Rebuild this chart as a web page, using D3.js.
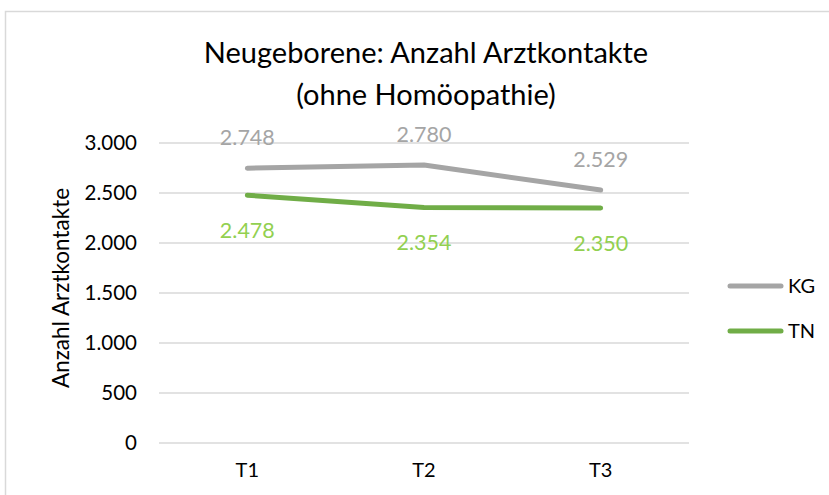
<!DOCTYPE html>
<html>
<head>
<meta charset="utf-8">
<script src="https://cdn.jsdelivr.net/npm/d3@7"></script>
<style>
    body { margin: 0; background: #fff; }
    svg text { font-family: Lato, "Open Sans", sans-serif; }
</style>
</head>
<body>
<svg id="chart" width="829" height="495"></svg>
<script>
    const categories = ["T1", "T2", "T3"];
    const kgValues = [2748, 2780, 2529];
    const tnValues = [2478, 2354, 2350];
    const yTicks = [0, 500, 1000, 1500, 2000, 2500, 3000];
    const seriesNames = ["KG", "TN"];

    (function () {
        const fmt = d3.format(",.0f");
        const deFmt = v => fmt(v).replace(/,/g, ".");

        const svg = d3.select("#chart");

        // chart frame (runs off the right/bottom edge)
        svg.append("rect")
            .attr("x", 5.5).attr("y", 11.5)
            .attr("width", 840).attr("height", 500)
            .attr("fill", "#fff")
            .attr("stroke", "#d9d9d9")
            .attr("stroke-width", 1.5);

        const plotLeft = 159, plotRight = 689, plotTop = 143, plotBottom = 443;

        const x = d3.scaleBand().domain(categories).range([plotLeft, plotRight]);
        const y = d3.scaleLinear().domain([0, 3000]).range([plotBottom, plotTop]);

        // gridlines
        svg.append("g")
            .selectAll("line")
            .data(yTicks)
            .enter()
            .append("line")
            .attr("x1", plotLeft).attr("x2", plotRight)
            .attr("y1", d => y(d)).attr("y2", d => y(d))
            .attr("stroke", "#d9d9d9")
            .attr("stroke-width", 1.5);

        // y tick labels
        svg.append("g")
            .selectAll("text")
            .data(yTicks)
            .enter()
            .append("text")
            .attr("x", 137)
            .attr("y", d => y(d))
            .attr("dy", "0.35em")
            .attr("text-anchor", "end")
            .attr("font-size", 20.5)
            .attr("fill", "#000")
            .text(d => deFmt(d));

        // x tick labels
        svg.append("g")
            .selectAll("text")
            .data(categories)
            .enter()
            .append("text")
            .attr("x", d => x(d) + x.bandwidth() / 2)
            .attr("y", 470)
            .attr("dy", "0.35em")
            .attr("text-anchor", "middle")
            .attr("font-size", 20)
            .attr("fill", "#000")
            .text(d => d);

        // title
        const title = svg.append("text")
            .attr("text-anchor", "middle")
            .attr("font-size", 29)
            .attr("fill", "#000");
        title.append("tspan").attr("x", 426).attr("y", 63).text("Neugeborene: Anzahl Arztkontakte");
        title.append("tspan").attr("x", 426).attr("y", 105).text("(ohne Homöopathie)");

        // y axis title
        svg.append("text")
            .attr("transform", "translate(69,288) rotate(-90)")
            .attr("text-anchor", "middle")
            .attr("font-size", 22.5)
            .attr("fill", "#000")
            .text("Anzahl Arztkontakte");

        const line = d3.line()
            .x((d, i) => x(categories[i]) + x.bandwidth() / 2)
            .y(d => y(d));

        const series = [
            {name: seriesNames[0], values: kgValues, color: "#a5a5a5", labelColor: "#a5a5a5", dy: -31},
            {name: seriesNames[1], values: tnValues, color: "#70ad47", labelColor: "#92d050", dy: 35}
        ];

        series.forEach(function (s) {
            svg.append("path")
                .datum(s.values)
                .attr("d", line)
                .attr("fill", "none")
                .attr("stroke", s.color)
                .attr("stroke-width", 5)
                .attr("stroke-linecap", "round")
                .attr("stroke-linejoin", "round");

            svg.append("g")
                .selectAll("text")
                .data(s.values)
                .enter()
                .append("text")
                .attr("x", (d, i) => x(categories[i]) + x.bandwidth() / 2)
                .attr("y", d => y(d) + s.dy)
                .attr("dy", "0.35em")
                .attr("text-anchor", "middle")
                .attr("font-size", 21.5)
                .attr("fill", s.labelColor)
                .text(d => deFmt(d));
        });

        // legend
        const legend = svg.append("g")
            .selectAll("g")
            .data(series)
            .enter()
            .append("g")
            .attr("transform", (d, i) => `translate(0, ${286 + i * 45})`);

        legend.append("line")
            .attr("x1", 730).attr("x2", 781)
            .attr("stroke", d => d.color)
            .attr("stroke-width", 5)
            .attr("stroke-linecap", "round");

        legend.append("text")
            .attr("x", 788)
            .attr("dy", "0.35em")
            .attr("font-size", 20)
            .attr("fill", "#000")
            .text(d => d.name);
    })();
</script>
</body>
</html>
